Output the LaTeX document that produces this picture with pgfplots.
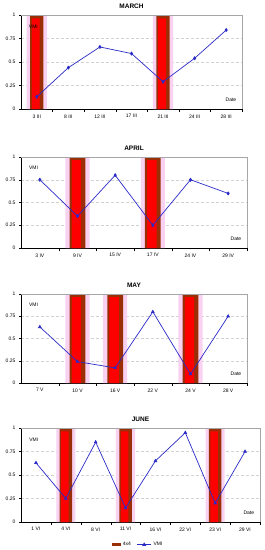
\documentclass[border=0pt]{standalone}
\usepackage{pgfplots}
\pgfplotsset{compat=1.18}
\usepackage{fontspec}
\setmainfont{Liberation Sans}
\definecolor{barred}{HTML}{FF0000}
\definecolor{barbrown}{HTML}{9A2E06}
\definecolor{glow}{HTML}{F9D2F2}
\definecolor{vmiblue}{HTML}{2A2AC8}
\pgfplotsset{
  monthax/.style={
    scale only axis,
    axis x line*=bottom, axis y line*=left,
    ymin=0, ymax=1,
    ytick={0,0.25,0.5,0.75,1},
    yticklabels={0,0.25,0.5,0.75,1},
    ymajorgrids, grid style={densely dashed, gray!35},
    tick label style={font=\fontsize{5}{6}\selectfont},
    xtick style={draw=none},
    ytick style={black}, tick align=outside, major tick length=2pt,
    extra x tick labels={},
    extra x tick style={major tick length=3pt, tick align=outside, xtick style={draw=black}, grid=none},
    axis line style={black, line width=0.6pt},
    title style={font=\fontsize{6.5}{7}\selectfont\bfseries, yshift=-3pt},
    clip=false,
  },
  glowbar/.style={ybar, bar shift=0pt, bar width=0.64, fill=glow, draw=none, forget plot},
  vbar/.style={ybar, bar shift=0pt, bar width=0.42, fill=barbrown, draw=none},
  vbarin/.style={ybar, bar shift=-1pt, bar width=0.25, fill=barred, draw=none, forget plot},
  vline/.style={color=vmiblue, line width=0.7pt, mark size=1.5pt},
}
\newcommand{\decor}{%
  \draw[gray!70] (rel axis cs:0,1) -- (rel axis cs:1,1) -- (rel axis cs:1,0);
  \node[anchor=west, font=\fontsize{5}{6}\selectfont] at (rel axis cs:0.02,0.88) {VMI};
  \node[anchor=east, font=\fontsize{5}{6}\selectfont] at (rel axis cs:0.99,0.1) {Date};
}
\begin{document}
\begin{tikzpicture}
\path[use as bounding box] (0,0) rectangle (265pt,-550pt);
% MARCH
\begin{axis}[monthax, at={(21pt,-109pt)}, anchor=south west,
  width=221pt, height=94pt, title={MARCH},
  xmin=-0.5, xmax=6.5, xtick={0,...,6},
  xticklabels={3 III,8 III,12 III,17 III,21 III,24 III,28 III},
  extra x ticks={0.5,1.5,2.5,3.5,4.5,5.5,6.5}]
\addplot[glowbar] coordinates {(0,1) (4,1)};
\addplot[vbar] coordinates {(0,1) (4,1)};
\addplot[vbarin] coordinates {(0,0.965) (4,0.965)};
\addplot[vline, mark=diamond*] coordinates {(0,0.13) (1,0.44) (2,0.66) (3,0.59) (4,0.29) (5,0.54) (6,0.84)};
\decor
\end{axis}
% APRIL
\begin{axis}[monthax, at={(21pt,-248pt)}, anchor=south west,
  width=226pt, height=91pt, title={APRIL},
  xmin=-0.5, xmax=5.5, xtick={0,...,5},
  xticklabels={3 IV,9 IV,15 IV,17 IV,24 IV,29 IV},
  extra x ticks={0.5,1.5,2.5,3.5,4.5,5.5}]
\addplot[glowbar] coordinates {(1,1) (3,1)};
\addplot[vbar] coordinates {(1,1) (3,1)};
\addplot[vbarin] coordinates {(1,0.965) (3,0.965)};
\addplot[vline, mark=diamond*] coordinates {(0,0.75) (1,0.35) (2,0.80) (3,0.25) (4,0.75) (5,0.60)};
\decor
\end{axis}
% MAY
\begin{axis}[monthax, at={(21pt,-383pt)}, anchor=south west,
  width=226pt, height=89pt, title={MAY},
  xmin=-0.5, xmax=5.5, xtick={0,...,5},
  xticklabels={7 V,10 V,16 V,22 V,24 V,28 V},
  extra x ticks={0.5,1.5,2.5,3.5,4.5,5.5}]
\addplot[glowbar] coordinates {(1,1) (2,1) (4,1)};
\addplot[vbar] coordinates {(1,1) (2,1) (4,1)};
\addplot[vbarin] coordinates {(1,0.965) (2,0.965) (4,0.965)};
\addplot[vline, mark=triangle*] coordinates {(0,0.63) (1,0.24) (2,0.17) (3,0.80) (4,0.10) (5,0.75)};
\decor
\end{axis}
% JUNE
\begin{axis}[monthax, at={(21pt,-522pt)}, anchor=south west,
  width=239pt, height=94pt, title={JUNE},
  xmin=-0.5, xmax=7.5, xtick={0,...,7},
  xticklabels={1 VI,4 VI,8 VI,11 VI,16 VI,22 VI,23 VI,29 VI},
  extra x ticks={0.5,1.5,2.5,3.5,4.5,5.5,6.5,7.5},
  legend style={at={(0.49,-0.17)}, anchor=north, legend columns=2, draw=none,
    font=\fontsize{5}{6}\selectfont, /tikz/every even column/.append style={column sep=4pt}}]
\addplot[glowbar] coordinates {(1,1) (3,1) (6,1)};
\addplot[vbar, legend image code/.code={\fill[barbrown] (0pt,-1.2pt) rectangle (9pt,1.2pt);}] coordinates {(1,1) (3,1) (6,1)};
\addlegendentry{4x4}
\addplot[vbarin] coordinates {(1,0.965) (3,0.965) (6,0.965)};
\addplot[vline, mark=triangle*, legend image code/.code={\draw[vmiblue, line width=0.7pt] (0pt,0pt) -- (14pt,0pt); \fill[vmiblue] (7pt,1.6pt) -- (5.6pt,-0.8pt) -- (8.4pt,-0.8pt) -- cycle;}] coordinates {(0,0.63) (1,0.25) (2,0.85) (3,0.15) (4,0.65) (5,0.95) (6,0.20) (7,0.75)};
\addlegendentry{VMI}
\decor
\end{axis}
\end{tikzpicture}
\end{document}
